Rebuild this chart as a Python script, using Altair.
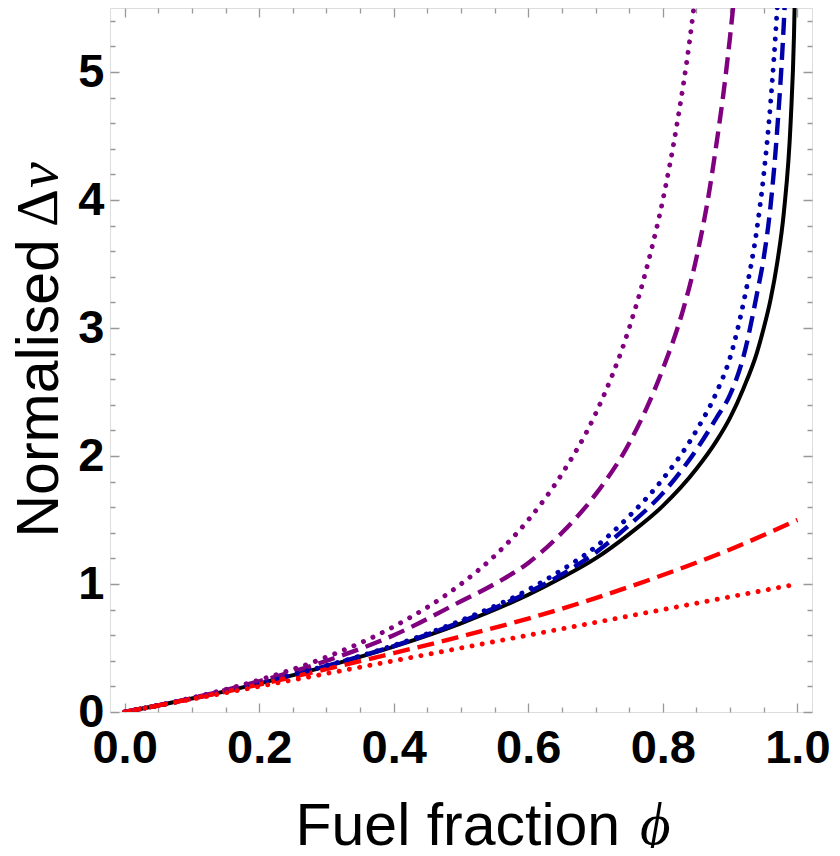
import altair as alt
import pandas as pd

# ---------------- data ----------------
series_names = ["black solid", "blue dashed", "blue dotted", "purple dashed",
                "purple dotted", "red dashed", "red dotted"]
series_colors = ["#000000", "#0000AA", "#0000AA", "#800080", "#800080", "#FF0000", "#FF0000"]
series_styles = ["solid", "dashed", "dotted", "dashed", "dotted", "dashed", "dotted"]

phi_black = [0, 0.1, 0.2, 0.3, 0.4, 0.5, 0.6, 0.65, 0.7, 0.75, 0.8, 0.85, 0.88, 0.9,
             0.92, 0.94, 0.95, 0.96, 0.97, 0.98, 0.99, 0.995, 0.997]
dv_black = [0, 0.105, 0.223, 0.357, 0.511, 0.693, 0.916, 1.05, 1.20, 1.39, 1.61, 1.90,
            2.12, 2.30, 2.53, 2.81, 3.00, 3.22, 3.51, 3.91, 4.61, 5.30, 5.81]

phi_blue_dashed = [0, 0.1, 0.2, 0.3, 0.4, 0.5, 0.6, 0.65, 0.7, 0.75, 0.8, 0.85, 0.88,
                   0.9, 0.92, 0.94, 0.95, 0.96, 0.97, 0.98, 0.985]
dv_blue_dashed = [0, 0.105, 0.224, 0.36, 0.515, 0.705, 0.935, 1.075, 1.245, 1.46, 1.71,
                  2.05, 2.30, 2.48, 2.78, 3.27, 3.55, 3.95, 4.55, 5.40, 6.0]

phi_blue_dotted = [0, 0.1, 0.2, 0.3, 0.4, 0.5, 0.6, 0.65, 0.7, 0.75, 0.8, 0.85, 0.88,
                   0.9, 0.92, 0.94, 0.95, 0.96, 0.97, 0.98]
dv_blue_dotted = [0, 0.105, 0.225, 0.362, 0.52, 0.715, 0.955, 1.11, 1.29, 1.53, 1.82,
                  2.20, 2.50, 2.77, 3.20, 3.78, 4.20, 4.75, 5.50, 6.5]

phi_purple_dashed = [0, 0.1, 0.2, 0.3, 0.4, 0.5, 0.55, 0.6, 0.65, 0.7, 0.75, 0.8,
                     0.83, 0.85, 0.87, 0.88, 0.89, 0.9, 0.91]
dv_purple_dashed = [0, 0.108, 0.24, 0.40, 0.60, 0.865, 1.0, 1.165, 1.40, 1.70, 2.10, 2.68,
                    3.14, 3.55, 4.10, 4.45, 4.83, 5.28, 5.8]

phi_purple_dotted = [0, 0.1, 0.2, 0.3, 0.4, 0.5, 0.55, 0.6, 0.65, 0.7, 0.75, 0.78, 0.8,
                     0.82, 0.84, 0.86]
dv_purple_dotted = [0, 0.111, 0.25, 0.429, 0.667, 1.0, 1.22, 1.5, 1.86, 2.33, 3.0, 3.55,
                    4.0, 4.56, 5.25, 6.14]

phi_red_dashed = [0, 0.1, 0.2, 0.3, 0.4, 0.5, 0.6, 0.7, 0.8, 0.9, 1.0]
dv_red_dashed = [0, 0.104, 0.215, 0.335, 0.46, 0.59, 0.73, 0.89, 1.07, 1.27, 1.5]

phi_red_dotted = [0, 0.5, 1.0]
dv_red_dotted = [0, 0.5, 1.0]

x_ticks = [round(0.05 * k, 2) for k in range(21)]
y_ticks = [round(0.2 * k, 1) for k in range(28)]

x_title = "Fuel fraction"
x_symbol = ["\u03d5"]
y_title = "Normalised"
y_symbol_delta = ["\u0394"]
y_symbol_v = ["v"]

# ---------------- build table ----------------
all_phi = [phi_black, phi_blue_dashed, phi_blue_dotted, phi_purple_dashed,
           phi_purple_dotted, phi_red_dashed, phi_red_dotted]
all_dv = [dv_black, dv_blue_dashed, dv_blue_dotted, dv_purple_dashed,
          dv_purple_dotted, dv_red_dashed, dv_red_dotted]
rows = []
for name, style, ph, dv in zip(series_names, series_styles, all_phi, all_dv):
    for p, v in zip(ph, dv):
        rows.append({"series": name, "style": style, "phi": p, "dv": v})
df = pd.DataFrame(rows)

W = 702
H = 704
GRAY = "#999999"


def dash(L, n):
    return [n, L - 2 * n, n, 5000]


x_axis = alt.Axis(
    values=x_ticks,
    labelExpr="abs(datum.value*5 - round(datum.value*5)) < 0.001 ? format(datum.value, '.1f') : ''",
    labelFont="Liberation Sans", labelFontSize=47, labelFontWeight="bold", labelColor="black",
    labelPadding=13, labelOverlap=False, labelFlush=False,
    ticks=False, tickSize=0, domain=False,
    grid=True, gridColor=GRAY, gridWidth=1.3, gridOpacity=1,
    gridDash={"condition": {"test": "abs(datum.value*5 - round(datum.value*5)) < 0.001",
                            "value": dash(H, 9)},
              "value": dash(H, 5)},
    title=x_title, titleFont="Liberation Sans", titleFontSize=59, titleFontWeight="normal",
    titleColor="black", titleAlign="left", titleBaseline="alphabetic", titleAngle=0,
    titleX=185, titleY=132,
)

y_axis = alt.Axis(
    values=y_ticks,
    labelExpr="abs(datum.value - round(datum.value)) < 0.001 ? format(round(datum.value), 'd') : ''",
    labelFont="Liberation Sans", labelFontSize=47, labelFontWeight="bold", labelColor="black",
    labelPadding=6, labelOverlap=False, labelFlush=False,
    ticks=False, tickSize=0, domain=False,
    grid=True, gridColor=GRAY, gridWidth=1.3, gridOpacity=1,
    gridDash={"condition": {"test": "abs(datum.value - round(datum.value)) < 0.001",
                            "value": dash(W, 9)},
              "value": dash(W, 5)},
    title=y_title, titleFont="Liberation Sans", titleFontSize=59, titleFontWeight="normal",
    titleColor="black", titleAlign="left", titleBaseline="alphabetic", titleAngle=270,
    titleX=-53, titleY=529,
)

base = alt.Chart(df).encode(
    x=alt.X("phi:Q", scale=alt.Scale(domain=[-0.0217, 1.0217], nice=False, zero=False), axis=x_axis),
    y=alt.Y("dv:Q", scale=alt.Scale(domain=[0, 5.5], nice=False, zero=False), axis=y_axis),
    color=alt.Color("series:N", scale=alt.Scale(domain=series_names, range=series_colors), legend=None),
    detail="series:N",
)

solid = base.transform_filter(alt.datum.style == "solid").mark_line(
    clip=True, strokeWidth=4.0, interpolate="monotone", strokeCap="butt")
dashed = base.transform_filter(alt.datum.style == "dashed").mark_line(
    clip=True, strokeWidth=4.4, interpolate="monotone", strokeDash=[17, 8], strokeCap="butt")
dotted = base.transform_filter(alt.datum.style == "dotted").mark_line(
    clip=True, strokeWidth=4.9, interpolate="monotone", strokeDash=[0.1, 10.3], strokeCap="round")

phi_text = alt.Chart(pd.DataFrame({"t": x_symbol})).mark_text(
    font="Liberation Serif, DejaVu Serif, serif", fontSize=59, fontStyle="italic",
    align="left", baseline="alphabetic", color="black"
).encode(text="t:N", x=alt.value(530), y=alt.value(836))

delta_text = alt.Chart(pd.DataFrame({"t": y_symbol_delta})).mark_text(
    font="Liberation Serif, DejaVu Serif, serif", fontSize=59, angle=270,
    align="left", baseline="alphabetic", color="black"
).encode(text="t:N", x=alt.value(-53), y=alt.value(219))

v_text = alt.Chart(pd.DataFrame({"t": y_symbol_v})).mark_text(
    font="Liberation Serif, DejaVu Serif, serif", fontSize=58, fontStyle="italic", angle=270,
    align="left", baseline="alphabetic", color="black"
).encode(text="t:N", x=alt.value(-53), y=alt.value(180))

chart = alt.layer(solid, dashed, dotted, phi_text, delta_text, v_text).properties(
    width=W, height=H,
    autosize=alt.AutoSizeParams(type="none"),
    padding={"left": 102, "top": 0, "right": 20, "bottom": 136},
).configure_view(stroke=GRAY, strokeWidth=1.4).configure(background="white")

chart.save("out.html", embed_options={"renderer": "svg", "actions": False})
